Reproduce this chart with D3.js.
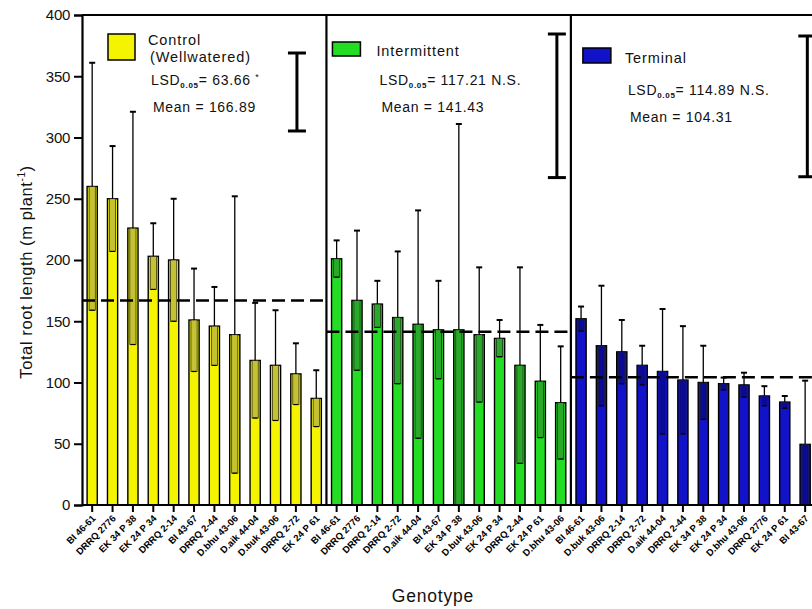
<!DOCTYPE html>
<html><head><meta charset="utf-8">
<script src="https://cdn.jsdelivr.net/npm/d3@7"></script>
<style>
html,body{margin:0;padding:0;background:#fff;}
svg{display:block;font-family:"Liberation Sans",Arial,sans-serif;}
</style></head>
<body><svg id="c" width="812" height="609"></svg>
<script>
// ---- data ----
const panels = ["Control", "Intermittent", "Terminal"];
const ctrlLabels = ["BI 46-61","DRRQ 2776","EK 34 P 38","EK 24 P 34","DRRQ 2-14","BI 43-67","DRRQ 2-44","D.bhu 43-06","D.aik 44-04","D.buk 43-06","DRRQ 2-72","EK 24 P 61"];
const intLabels  = ["BI 46-61","DRRQ 2776","DRRQ 2-14","DRRQ 2-72","D.aik 44-04","BI 43-67","EK 34 P 38","D.buk 43-06","EK 24 P 34","DRRQ 2-44","EK 24 P 61","D.bhu 43-06"];
const termLabels = ["BI 46-61","D.buk 43-06","DRRQ 2-14","DRRQ 2-72","D.aik 44-04","DRRQ 2-44","EK 34 P 38","EK 24 P 34","D.bhu 43-06","DRRQ 2776","EK 24 P 61","BI 43-67"];
const ctrlMean = [260,250,226,203,200,151,146,139,118,114,107,87];
const ctrlErr  = [101,43,95,27,50,42,32,113,47,45,25,23];
const intMean  = [201,167,164,153,147.5,143,143,139,136,114,101,83.5];
const intErr   = [15,57,19,54,93,40,168,55,15,80,46,46];
const termMean = [152,130,125,114,109,102,100,99,98,89,84,49.5];
const termErr  = [10,49,26,16,51,44,30,5,10,8,5,52];
const grandMean = [166.89, 141.43, 104.31];
const lsd = [63.66, 117.21, 114.89];
const lsdSig = ["*", "N.S.", "N.S."];
const legendNames = [["Control","(Wellwatered)"],["Intermittent"],["Terminal"]];
const yTicks = [0,50,100,150,200,250,300,350,400];

// ---- style / layout ----
const fills = ["#f4f400","#22dd22","#1212c8"];
const darks = ["#c4c232","#2aa82a","#0a0a96"];
const X0 = 82, STEP = 20.37, Y0 = 505, Y1 = 15;
const lsdOffset = [29.5, 14, 8];
const lsdTop = [53, 34, 36];
const legBox = [{dx:26,y:34,w:27,h:26},{dx:6,y:42,w:28,h:14},{dx:12,y:48,w:28,h:15}];
const legText = [{dx:66,b:[45,62,85,112]},{dx:50,b:[56,85,112]},{dx:54,b:[63,95,122]}];

const svg = d3.select("#c");
const seriesMeans = [ctrlMean,intMean,termMean];
const seriesErr = [ctrlErr,intErr,termErr];
const seriesLabels = [ctrlLabels,intLabels,termLabels];

const data = [];
panels.forEach((p,pi)=>{
  seriesMeans[pi].forEach((v,i)=>data.push({key:p+i,panel:pi,v:v,e:seriesErr[pi][i],label:seriesLabels[pi][i]}));
});

const x = d3.scaleBand().domain(data.map(d=>d.key)).range([X0, X0+STEP*36]).paddingInner(0.5).paddingOuter(0.25);
const y = d3.scaleLinear().domain([0,400]).range([Y0,Y1]);
const panelLeft = pi => X0 + pi*12*STEP;
const panelRight = pi => X0 + (pi+1)*12*STEP;

// bars
const g = svg.append("g");
const bw = x.bandwidth();
data.forEach(d=>{
  const cx = x(d.key)+bw/2;
  g.append("rect").attr("x",x(d.key)).attr("y",y(d.v)).attr("width",bw).attr("height",Y0-y(d.v))
    .attr("fill",fills[d.panel]).attr("stroke","#000").attr("stroke-width",1.4);
  const lo = Math.max(0,d.v-d.e);
  g.append("rect").attr("x",x(d.key)+2).attr("y",y(d.v)).attr("width",bw-4).attr("height",y(lo)-y(d.v))
    .attr("fill",darks[d.panel]).attr("stroke","#222").attr("stroke-width",0.7);
  if(lo>0) g.append("line").attr("x1",cx-2.5).attr("x2",cx+2.5).attr("y1",y(lo)).attr("y2",y(lo)).attr("stroke","#000").attr("stroke-width",1.2);
});
// mean dashed lines
grandMean.forEach((m,pi)=>{
  svg.append("line").attr("x1",panelLeft(pi)).attr("x2",panelRight(pi)).attr("y1",y(m)).attr("y2",y(m))
    .attr("stroke","#000").attr("stroke-width",2.6).attr("stroke-dasharray","13,6");
});
// upper error bars
data.forEach(d=>{
  const cx = x(d.key)+bw/2;
  svg.append("line").attr("x1",cx).attr("x2",cx).attr("y1",y(d.v)).attr("y2",y(Math.min(400,d.v+d.e))).attr("stroke","#000").attr("stroke-width",1.3);
  svg.append("line").attr("x1",cx-3).attr("x2",cx+3).attr("y1",y(d.v+d.e)).attr("y2",y(d.v+d.e)).attr("stroke","#000").attr("stroke-width",2);
});

// frame / dividers
svg.append("line").attr("x1",X0).attr("x2",812).attr("y1",Y1).attr("y2",Y1).attr("stroke","#000").attr("stroke-width",2);
[1,2].forEach(pi=>{
  svg.append("line").attr("x1",panelLeft(pi)).attr("x2",panelLeft(pi)).attr("y1",Y1).attr("y2",Y0).attr("stroke","#000").attr("stroke-width",2.2);
});

// y axis
const ya = svg.append("g").attr("transform",`translate(${X0},0)`)
  .call(d3.axisLeft(y).tickValues(yTicks).tickSize(8).tickPadding(4).tickFormat(d3.format("d")));
ya.select(".domain").attr("stroke-width",2.2);
ya.selectAll(".tick line").attr("stroke-width",2);
ya.selectAll("text").attr("font-size",15).attr("font-family","Liberation Sans, Arial").attr("letter-spacing","-0.3").attr("fill","#111");

// x axis
const xa = svg.append("g").attr("transform",`translate(0,${Y0})`)
  .call(d3.axisBottom(x).tickSize(7).tickFormat(k=>data.find(d=>d.key===k).label));
xa.select(".domain").attr("stroke-width",2.2).attr("d",`M${X0},0H812`);
xa.selectAll(".tick line").attr("stroke-width",2);
xa.selectAll(".tick text").attr("font-size",9.5).attr("font-weight","bold").attr("font-family","Liberation Sans, Arial")
  .attr("text-anchor","end").attr("dy",0).attr("y",0)
  .attr("transform","translate(4,14) rotate(-45)");

// axis titles
const yt = svg.append("text").attr("transform","translate(32,272) rotate(-90)").attr("text-anchor","middle")
  .attr("font-size",16.5).attr("letter-spacing","0.6").attr("fill","#111");
yt.append("tspan").text("Total root length (m plant");
yt.append("tspan").attr("font-size",10).attr("dy",-7).text("-1");
yt.append("tspan").attr("dy",7).text(")");
svg.append("text").attr("x",433).attr("y",602).attr("text-anchor","middle").attr("font-size",17.5).attr("letter-spacing","0.8").attr("fill","#111").text("Genotype");

// legends
panels.forEach((p,pi)=>{
  const L = panelLeft(pi);
  const b = legBox[pi];
  svg.append("rect").attr("x",L+b.dx).attr("y",b.y).attr("width",b.w).attr("height",b.h).attr("fill",fills[pi]).attr("stroke","#000").attr("stroke-width",1.5);
  const t = legText[pi];
  const names = legendNames[pi];
  names.forEach((n,i)=>{
    svg.append("text").attr("x",L+t.dx+(i?2:0)).attr("y",t.b[i]).attr("font-size",14.5).attr("letter-spacing","0.9").attr("fill","#111").text(n);
  });
  const nl = names.length;
  const lt = svg.append("text").attr("x",L+t.dx+3).attr("y",t.b[nl]).attr("font-size",14).attr("letter-spacing","0.7").attr("fill","#111");
  lt.append("tspan").text("LSD");
  lt.append("tspan").attr("font-size",8).attr("font-weight","bold").attr("dy",3).text("0.05");
  lt.append("tspan").attr("dy",-3).text("= " + lsd[pi].toFixed(2) + " " + (lsdSig[pi]==="*" ? "" : lsdSig[pi]));
  if(lsdSig[pi]==="*") lt.append("tspan").attr("font-size",9).attr("dy",-5).text("*");
  svg.append("text").attr("x",L+t.dx+5).attr("y",t.b[nl+1]).attr("font-size",14).attr("letter-spacing","0.7").attr("fill","#111")
    .text("Mean = " + grandMean[pi].toFixed(2));
  // LSD bar
  const lx = panelRight(pi) - lsdOffset[pi];
  const top = lsdTop[pi], bot = top + (y(0)-y(lsd[pi]));
  svg.append("line").attr("x1",lx).attr("x2",lx).attr("y1",top).attr("y2",bot).attr("stroke","#000").attr("stroke-width",3);
  [top,bot].forEach(yy=>svg.append("line").attr("x1",lx-9).attr("x2",lx+9).attr("y1",yy).attr("y2",yy).attr("stroke","#000").attr("stroke-width",3));
});
</script></body></html>
